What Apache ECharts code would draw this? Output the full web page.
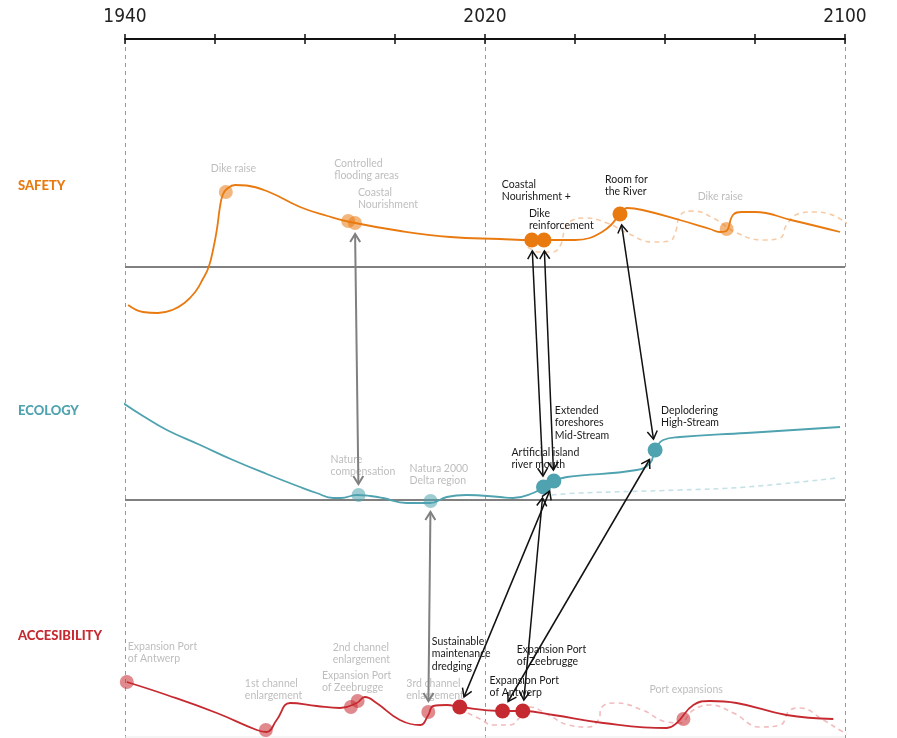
<!DOCTYPE html>
<html>
<head>
<meta charset="utf-8">
<title>Safety / Ecology / Accesibility timeline</title>
<script src="https://cdn.jsdelivr.net/npm/echarts@6/dist/echarts.min.js"></script>
<style>
  html, body { margin: 0; padding: 0; background: #fff; }
  #chart { width: 897px; height: 738px; }
</style>
</head>
<body>
<div id="chart"></div>
<script>
// ---- data (years on x, level relative to each theme's baseline on y) ----
const yearTicks = [1940, 2020, 2100]

const safetyLine = [
  [1940.7, -38], [1944, -45], [1947.3, -46], [1950.5, -43], [1953.2, -36], [1955.6, -25],
  [1957.3, -12], [1958.6, 0], [1959.7, 20], [1960.5, 40], [1961.1, 60], [1961.7, 72],
  [1962.6, 78], [1964.5, 82], [1967, 81.5], [1972, 75], [1978.9, 60], [1985, 51],
  [1990, 45], [2001.2, 36], [2012.3, 30], [2023.3, 28], [2030.4, 27], [2033.1, 27],
  [2040, 27], [2043.3, 29], [2046, 35], [2048, 42], [2050, 53], [2051.6, 59], [2055, 57],
  [2063.3, 47], [2070, 38], [2072.2, 35], [2073.6, 36], [2075.1, 52], [2077, 55],
  [2080, 55], [2088, 47], [2098.9, 35]
]
const safetyDashed = [
  [2029.5, 20], [2032, 15], [2035, 15], [2036.8, 22], [2037.8, 38], [2039.5, 47],
  [2042, 49], [2047.1, 44], [2051.6, 34], [2057.3, 25], [2061, 26], [2062.4, 36],
  [2063.4, 52], [2066.2, 56], [2070.7, 49], [2076, 34], [2081.8, 27], [2085.6, 29],
  [2087, 42], [2089.5, 53], [2093, 55], [2096.5, 53], [2100.4, 44], [2103.3, 35]
]
const ecologyLine = [
  [1939.6, 97], [1944, 84], [1949.3, 70], [1956.7, 55], [1964, 40], [1971.5, 26],
  [1978.9, 13], [1982.6, 7], [1986.3, 2], [1988, 2], [1991.5, 5], [1994.5, 4],
  [1997.3, 2], [2002.6, -3], [2007.8, -3], [2011.5, 3], [2015.9, 5], [2023.3, 3],
  [2026.2, 2], [2030.7, 7], [2033, 13], [2035.3, 19], [2038.2, 23], [2053.7, 30],
  [2056.7, 37], [2057.8, 50], [2059.6, 60], [2063.3, 63], [2078.1, 67], [2098.9, 73]
]
const ecologyDashed = [
  [2034.8, 5], [2041.1, 7], [2063.3, 10], [2078.1, 13], [2098.1, 22]
]
const accessLine = [
  [1940.4, 55], [1949.3, 42], [1960.4, 24], [1969.3, 7], [1971.5, 5], [1973.7, 17],
  [1976.7, 34], [1982.6, 31], [1987.8, 29], [1991.5, 34], [1993.3, 40], [1995.9, 34],
  [2001.1, 17], [2005.6, 12], [2007.4, 22], [2008.5, 31], [2011.5, 32], [2014.4, 30],
  [2023.3, 26], [2028.4, 26], [2035.2, 22], [2046.3, 14], [2060.4, 9], [2062.6, 14],
  [2066.3, 32], [2070, 36], [2075.9, 34], [2087, 22], [2097.4, 18]
]
const accessDashed = [
  [2014.4, 28], [2018.9, 18], [2021.8, 12], [2025.6, 12], [2027.8, 20], [2030, 30],
  [2034.1, 22], [2038.5, 12], [2042.9, 10], [2045.2, 17], [2046, 30], [2049, 34],
  [2055, 27], [2060.4, 15], [2063.3, 14], [2066.3, 27], [2070, 32], [2075.2, 24],
  [2081.1, 10], [2085.6, 12], [2087.8, 27], [2090, 29], [2095.2, 17], [2099.6, 5],
  [2102.5, -1]
]

// [label, year, level, kind]  kind: past (light dot) / plan (solid dot)
const safetyEvents = [
  ['Dike raise', 1962.4, 75, 'past'],
  ['Controlled\nflooding areas', 1989.6, 46, 'past'],
  ['Coastal\nNourishment', 1991.1, 44, 'past'],
  ['Coastal\nNourishment +', 2030.4, 27, 'plan'],
  ['Dike\nreinforcement', 2033.1, 27, 'plan'],
  ['Room for\nthe River', 2050, 53, 'plan'],
  ['Dike raise', 2073.7, 38, 'past']
]
const ecologyEvents = [
  ['Nature\ncompensation', 1991.9, 5, 'past'],
  ['Natura 2000\nDelta region', 2007.9, -1, 'past'],
  ['Artificial island\nriver mouth', 2033, 13, 'plan'],
  ['Extended\nforeshores\nMid-Stream', 2035.3, 19, 'plan'],
  ['Deplodering\nHigh-Stream', 2057.8, 50, 'plan']
]
const accessEvents = [
  ['Expansion Port\nof Antwerp', 1940.4, 55, 'past'],
  ['1st channel\nenlargement', 1971.3, 7, 'past'],
  ['Expansion Port\nof Zeebrugge', 1990.2, 30, 'past'],
  ['2nd channel\nenlargement', 1991.7, 36, 'past'],
  ['3rd channel\nenlargement', 2007.4, 25, 'past'],
  ['Sustainable\nmaintenance\ndredging', 2014.4, 30, 'plan'],
  ['Expansion Port\nof Antwerp', 2023.9, 26, 'plan'],
  ['Expansion Port\nof Zeebrugge', 2028.4, 26, 'plan'],
  ['Port expansions', 2064.1, 18, 'past']
]

// links between measures: [theme, eventIndex, theme, eventIndex, kind]
const links = [
  ['safety', 3, 'ecology', 2, 'plan'],
  ['safety', 4, 'ecology', 3, 'plan'],
  ['safety', 5, 'ecology', 4, 'plan'],
  ['access', 5, 'ecology', 3, 'plan'],
  ['access', 7, 'ecology', 2, 'plan'],
  ['access', 6, 'ecology', 4, 'plan'],
  ['safety', 2, 'ecology', 0, 'past'],
  ['ecology', 1, 'access', 4, 'past']
]

// ---- layout / style ----
const BASE = { safety: 471, ecology: 238, access: 1 }
const COLORS = { safety: '#E97A10', ecology: '#4FA2AF', access: '#C62A31' }
const DASH_COLORS = { safety: '#F7CBA6', ecology: '#C4E2E7', access: '#F2BCBF' }
const EVENTS = { safety: safetyEvents, ecology: ecologyEvents, access: accessEvents }
const LABEL_OFFSETS = {
  safety: [[-15, -30], [-14, -64], [3, -37], [-30, -62], [-15, -33], [-15, -41], [-29, -39]],
  ecology: [[-28, -42], [-21, -39], [-32, -41], [1, -77], [6, -46]],
  access: [[1, -42], [-21, -53], [-29, -38], [-25, -60], [-22, -35], [-28, -72], [-13, -37], [-6, -68], [-34, -36]]
}
const FONT = 'Lato, "Noto Sans", sans-serif'

const shift = (pts, base) => pts.map(([x, y]) => [x, y + base])

const curve = (name, pts, theme, dashed) => ({
  name,
  type: 'line',
  data: shift(pts, BASE[theme]),
  smooth: 0.45,
  showSymbol: false,
  silent: true,
  clip: false,
  z: dashed ? 2 : 3,
  lineStyle: dashed
    ? { color: DASH_COLORS[theme], width: 1.6, type: [5, 4] }
    : { color: COLORS[theme], width: 1.8 }
})

const dots = (theme) => ({
  name: theme + '-events',
  type: 'scatter',
  z: 4,
  data: EVENTS[theme].map(([label, year, lvl, kind], i) => ({
    name: label,
    value: [year, lvl + BASE[theme]],
    symbolSize: kind === 'plan' ? 15 : 14,
    itemStyle: { color: COLORS[theme], opacity: kind === 'plan' ? 1 : 0.55 },
    label: {
      show: true,
      position: 'inside',
      align: 'left',
      verticalAlign: 'top',
      offset: LABEL_OFFSETS[theme][i],
      formatter: '{b}',
      color: kind === 'plan' ? '#1a1a1a' : '#868686',
      fontSize: 10.5,
      lineHeight: 12.5,
      fontFamily: FONT
    }
  }))
})

const baseline = (theme, color, width) => ({
  type: 'line',
  data: [[1940, BASE[theme]], [2100, BASE[theme]]],
  showSymbol: false,
  silent: true,
  z: 1,
  lineStyle: { color, width }
})

const linkData = links.map(([t1, i1, t2, i2, kind]) => {
  const a = EVENTS[t1][i1]
  const b = EVENTS[t2][i2]
  return [a[1], a[2] + BASE[t1], b[1], b[2] + BASE[t2], kind === 'plan' ? 1 : 0]
})

const renderArrow = (params, api) => {
  const p1 = api.coord([api.value(0), api.value(1)])
  const p2 = api.coord([api.value(2), api.value(3)])
  const plan = api.value(4) === 1
  const gap = 11
  const dx = p2[0] - p1[0]
  const dy = p2[1] - p1[1]
  const len = Math.sqrt(dx * dx + dy * dy)
  const ux = dx / len
  const uy = dy / len
  const a = [p1[0] + ux * gap, p1[1] + uy * gap]
  const b = [p2[0] - ux * gap, p2[1] - uy * gap]
  const head = (tip, dirX, dirY) => {
    const L = 8, W = 5
    return [
      [tip[0] - dirX * L - dirY * W, tip[1] - dirY * L + dirX * W],
      tip,
      [tip[0] - dirX * L + dirY * W, tip[1] - dirY * L - dirX * W]
    ]
  }
  const style = {
    stroke: plan ? '#111' : '#808080',
    lineWidth: plan ? 1.5 : 2,
    fill: null
  }
  return {
    type: 'group',
    children: [
      { type: 'line', shape: { x1: a[0], y1: a[1], x2: b[0], y2: b[1] }, style },
      { type: 'polyline', shape: { points: head(a, -ux, -uy) }, style },
      { type: 'polyline', shape: { points: head(b, ux, uy) }, style }
    ]
  }
}

const titleText = (text, top, color) => ({
  text,
  left: 18,
  top,
  padding: 0,
  textStyle: { color, fontSize: 13, fontWeight: 900, fontFamily: FONT }
})

const yearAxis = (extra) => ({
  type: 'value',
  position: 'top',
  min: 1940,
  max: 2100,
  interval: 20,
  axisLine: { show: false, onZero: false },
  axisTick: { show: false },
  axisLabel: { show: false },
  splitLine: { show: false },
  ...extra
})

const buildOption = () => ({
  animation: false,
  title: [
    titleText('SAFETY', 179, COLORS.safety),
    titleText('ECOLOGY', 404, COLORS.ecology),
    titleText('ACCESIBILITY', 629, COLORS.access)
  ],
  grid: { left: 125, right: 52, top: 39, bottom: 0 },
  xAxis: [
    yearAxis({
      axisLine: { show: true, onZero: false, lineStyle: { color: '#111', width: 2 } },
      axisTick: { show: true, length: 5, lineStyle: { color: '#111', width: 1.5 } },
      axisLabel: {
        show: true,
        margin: 12,
        color: '#222',
        fontSize: 19,
        fontFamily: '"Liberation Sans Narrow", "DejaVu Sans Condensed", sans-serif',
        formatter: (v) => (yearTicks.includes(v) ? String(v) : '')
      }
    }),
    yearAxis({
      axisTick: { show: true, inside: true, length: 5, lineStyle: { color: '#111', width: 1.5 } }
    }),
    yearAxis({
      interval: 80,
      splitLine: { show: true, lineStyle: { color: '#9a9a9a', width: 1, type: [4, 4] } }
    })
  ],
  yAxis: { type: 'value', min: 0, max: 699, show: false },
  series: [
    baseline('safety', '#808080', 2),
    baseline('ecology', '#808080', 2),
    baseline('access', '#ececec', 1),
    curve('Safety plan', safetyDashed, 'safety', true),
    curve('Ecology plan', ecologyDashed, 'ecology', true),
    curve('Accesibility plan', accessDashed, 'access', true),
    curve('Safety', safetyLine, 'safety', false),
    curve('Ecology', ecologyLine, 'ecology', false),
    curve('Accesibility', accessLine, 'access', false),
    dots('safety'),
    dots('ecology'),
    dots('access'),
    {
      name: 'links',
      type: 'custom',
      renderItem: renderArrow,
      data: linkData,
      silent: true,
      clip: false,
      z: 6
    }
  ]
})

const chart = echarts.init(document.getElementById('chart'))
chart.setOption(buildOption())
window.addEventListener('resize', () => chart.resize())
</script>
</body>
</html>
